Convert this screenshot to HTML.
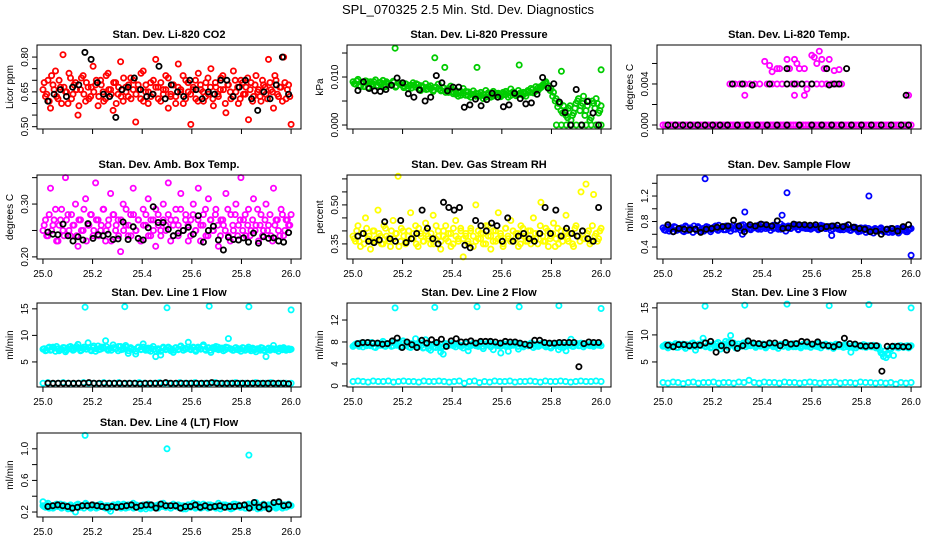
<!DOCTYPE html>
<html><head><meta charset="utf-8"><title>SPL_070325 2.5 Min. Std. Dev. Diagnostics</title>
<style>
html,body{margin:0;padding:0;background:#fff;}
svg{display:block;font-family:"Liberation Sans",Arial,sans-serif;}
</style></head>
<body>
<svg id="chart" width="936" height="540" viewBox="0 0 936 540" xmlns="http://www.w3.org/2000/svg">
<rect x="0" y="0" width="936" height="540" fill="#fff"/>
<text x="468" y="14" text-anchor="middle" font-size="13">SPL_070325  2.5 Min. Std. Dev. Diagnostics</text>
</svg>
<script>
// ---------- DATA ----------
const xTicks = [25.0, 25.2, 25.4, 25.6, 25.8, 26.0];
const xTickLabels = ["25.0", "25.2", "25.4", "25.6", "25.8", "26.0"];

const co2Main = [0.66,0.63,0.70,0.58,0.68,0.74,0.62,0.67,0.81,0.65,0.60,0.71,0.64,0.69,0.55,0.66,0.72,0.61,0.67,0.63,0.76,0.68,0.59,0.70,0.65,0.62,0.73,0.66,0.57,0.69,0.64,0.78,0.61,0.67,0.63,0.71,0.66,0.52,0.68,0.62,0.74,0.65,0.60,0.69,0.64,0.79,0.67,0.61,0.66,0.72,0.58,0.64,0.68,0.63,0.77,0.66,0.60,0.70,0.65,0.51,0.67,0.62,0.73,0.66,0.61,0.69,0.64,0.75,0.59,0.67,0.63,0.71,0.66,0.56,0.68,0.62,0.74,0.65,0.60,0.70,0.64,0.67,0.53,0.69,0.63,0.72,0.66,0.61,0.68,0.64,0.79,0.66,0.58,0.70,0.63,0.67,0.80,0.62,0.68,0.51];
const co2Main2 = [0.69,0.64,0.61,0.72,0.66,0.63,0.70,0.60,0.67,0.65,0.73,0.62,0.68,0.66,0.59,0.71,0.64,0.69,0.62,0.67,0.65,0.70,0.63,0.68,0.61,0.72,0.66,0.64,0.69,0.60,0.67,0.63,0.71,0.65,0.68,0.62,0.70,0.64,0.66,0.73,0.61,0.68,0.65,0.63,0.70,0.67,0.62,0.69,0.64,0.66,0.71,0.63,0.68,0.60,0.67,0.65,0.72,0.62,0.69,0.64,0.66,0.70,0.61,0.68,0.65,0.63,0.71,0.67,0.62,0.69,0.64,0.66,0.72,0.60,0.68,0.65,0.63,0.70,0.67,0.62,0.69,0.64,0.71,0.66,0.61,0.68,0.65,0.63,0.70,0.67,0.62,0.69,0.65,0.72,0.64,0.67,0.61,0.69,0.66,0.63];
const co2Black = [0.61,0.64,0.66,0.63,0.67,0.68,0.82,0.79,0.69,0.64,0.63,0.54,0.66,0.67,0.71,0.66,0.63,0.64,0.76,0.62,0.68,0.65,0.63,0.70,0.66,0.62,0.65,0.64,0.70,0.70,0.63,0.67,0.70,0.62,0.57,0.65,0.62,0.68,0.80,0.64];
const co2YTicks = [0.50,0.55,0.60,0.65,0.70,0.75,0.80];
const co2YLabels = ["0.50","","","0.65","","","0.80"];

const presMain = [0.0090,0.0085,0.0095,0.0080,0.0088,0.0092,0.0078,0.0090,0.0086,0.0094,0.0082,0.0089,0.0093,0.0080,0.0087,0.0084,0.0091,0.0079,0.0088,0.0085,0.0081,0.0086,0.0076,0.0083,0.0088,0.0079,0.0084,0.0072,0.0080,0.0086,0.0075,0.0082,0.0070,0.0079,0.0085,0.0073,0.0078,0.0068,0.0076,0.0081,0.0065,0.0072,0.0060,0.0070,0.0076,0.0062,0.0069,0.0058,0.0071,0.0066,0.0060,0.0068,0.0055,0.0072,0.0063,0.0058,0.0070,0.0062,0.0066,0.0059,0.0064,0.0070,0.0058,0.0075,0.0066,0.0061,0.0072,0.0064,0.0068,0.0060,0.0070,0.0076,0.0067,0.0080,0.0073,0.0078,0.0085,0.0090,0.0082,0.0076,0.0068,0.0055,0.0045,0.0030,0.0040,0.0020,0.0035,0.0010,0.0025,0.0045,0.0055,0.0040,0.0060,0.0030,0.0050,0.0015,0.0045,0.0055,0.0025,0.0040];
const presMain2 = [0.0086,0.0092,0.0083,0.0089,0.0080,0.0091,0.0087,0.0084,0.0090,0.0082,0.0088,0.0085,0.0079,0.0090,0.0086,0.0083,0.0089,0.0081,0.0087,0.0084,0.0078,0.0085,0.0081,0.0077,0.0083,0.0086,0.0076,0.0082,0.0079,0.0074,0.0080,0.0077,0.0073,0.0079,0.0075,0.0071,0.0077,0.0072,0.0068,0.0074,0.0069,0.0064,0.0067,0.0062,0.0066,0.0070,0.0061,0.0065,0.0063,0.0060,0.0065,0.0061,0.0064,0.0058,0.0067,0.0062,0.0060,0.0066,0.0063,0.0061,0.0068,0.0063,0.0066,0.0061,0.0069,0.0065,0.0063,0.0067,0.0062,0.0066,0.0072,0.0068,0.0074,0.0070,0.0077,0.0080,0.0083,0.0087,0.0078,0.0072,0.0060,0.0050,0.0038,0.0045,0.0025,0.0030,0.0015,0.0040,0.0020,0.0035,0.0050,0.0030,0.0045,0.0020,0.0040,0.0010,0.0050,0.0035,0.0045,0.0030];
const presExtraX = [25.17,25.33,25.37,25.50,25.67,25.84,26.00,25.82,25.84,25.86,25.88,25.90,25.92,25.94,25.96,25.98,26.00];
const presExtraY = [0.0160,0.0140,0.0120,0.0120,0.0125,0.0112,0.0115,0.0000,0.0000,0.0000,0.0000,0.0000,0.0000,0.0000,0.0000,0.0000,0.0000];
const presBlack = [0.0072,0.0090,0.0076,0.0071,0.0070,0.0074,0.0083,0.0098,0.0088,0.0065,0.0058,0.0073,0.0050,0.0058,0.0103,0.0088,0.0071,0.0079,0.0079,0.0037,0.0042,0.0054,0.0040,0.0053,0.0066,0.0058,0.0038,0.0042,0.0066,0.0055,0.0044,0.0046,0.0064,0.0099,0.0077,0.0086,0.0048,0.0026,0.0000,0.0074,0.0000,0.0049,0.0025,0.0000];
const presYTicks = [0.000,0.005,0.010,0.015];
const presYLabels = ["0.000","","0.010",""];

const tempMain = [0,0,0,0,0,0,0,0,0,0,0,0,0,0,0,0,0,0,0,0,0,0,0,0,0,0,0,0,0,0,0,0,0,0,0,0,0,0,0,0,0,0,0,0,0,0,0,0,0,0,0,0,0,0,0,0,0,0,0,0,0,0,0,0,0,0,0,0,0,0,0,0,0,0,0,0,0,0,0,0,0,0,0,0,0,0,0,0,0,0,0,0,0,0,0,0,0,0,0,0];
const tempExtraX = [25.27,25.29,25.31,25.33,25.35,25.37,25.39,25.42,25.44,25.46,25.48,25.50,25.52,25.54,25.56,25.58,25.60,25.62,25.64,25.66,25.68,25.70,25.72,25.44,25.43,25.46,25.47,25.50,25.53,25.54,25.55,25.57,25.58,25.60,25.61,25.62,25.63,25.64,25.65,25.67,25.69,25.71,25.33,25.53,25.57,25.99,25.41,25.51];
const tempExtraY = [0.0040,0.0040,0.0040,0.0040,0.0040,0.0040,0.0040,0.0040,0.0040,0.0040,0.0040,0.0040,0.0040,0.0040,0.0040,0.0040,0.0040,0.0040,0.0040,0.0040,0.0040,0.0040,0.0040,0.0052,0.0058,0.0055,0.0055,0.0064,0.0064,0.0060,0.0055,0.0055,0.0035,0.0068,0.0066,0.0060,0.0072,0.0064,0.0055,0.0064,0.0053,0.0054,0.0029,0.0029,0.0029,0.0029,0.0062,0.0055];
const tempBlackX = [25.02,25.05,25.08,25.11,25.14,25.17,25.20,25.23,25.26,25.30,25.34,25.38,25.42,25.46,25.50,25.55,25.60,25.64,25.68,25.72,25.76,25.80,25.84,25.88,25.92,25.96,25.99,25.28,25.32,25.36,25.43,25.50,25.53,25.56,25.60,25.67,25.69,25.71,25.50,25.66,25.74,25.98];
const tempBlackY = [0,0,0,0,0,0,0,0,0,0,0,0,0,0,0,0,0,0,0,0,0,0,0,0,0,0,0,0.0040,0.0040,0.0039,0.0040,0.0040,0.0040,0.0040,0.0040,0.0039,0.0040,0.0040,0.0055,0.0055,0.0055,0.0029];
const tempYTicks = [0.000,0.002,0.004,0.006];
const tempYLabels = ["0.000","","0.004",""];

const boxMain = [0.25,0.27,0.24,0.33,0.26,0.29,0.23,0.27,0.25,0.35,0.28,0.24,0.26,0.30,0.22,0.27,0.25,0.31,0.26,0.28,0.24,0.34,0.27,0.25,0.29,0.23,0.26,0.32,0.28,0.25,0.27,0.21,0.30,0.26,0.24,0.28,0.33,0.25,0.27,0.23,0.29,0.26,0.31,0.24,0.27,0.22,0.28,0.25,0.30,0.26,0.34,0.27,0.24,0.29,0.26,0.32,0.25,0.28,0.23,0.27,0.30,0.25,0.33,0.26,0.28,0.24,0.31,0.27,0.25,0.29,0.22,0.27,0.26,0.32,0.24,0.28,0.25,0.30,0.26,0.35,0.27,0.24,0.29,0.25,0.31,0.26,0.23,0.28,0.25,0.30,0.26,0.24,0.33,0.27,0.25,0.29,0.24,0.27,0.26,0.28];
const boxMain2 = [0.26,0.24,0.28,0.25,0.27,0.23,0.26,0.29,0.24,0.27,0.25,0.28,0.26,0.24,0.27,0.25,0.29,0.23,0.26,0.28,0.25,0.27,0.24,0.26,0.29,0.25,0.27,0.23,0.28,0.26,0.24,0.27,0.25,0.29,0.26,0.24,0.28,0.25,0.27,0.23,0.26,0.28,0.24,0.27,0.25,0.29,0.26,0.24,0.27,0.25,0.28,0.23,0.26,0.27,0.24,0.29,0.25,0.27,0.26,0.24,0.28,0.25,0.27,0.23,0.26,0.29,0.24,0.27,0.25,0.28,0.26,0.24,0.27,0.25,0.29,0.23,0.26,0.28,0.24,0.27,0.25,0.28,0.26,0.24,0.27,0.25,0.29,0.26,0.24,0.27,0.25,0.28,0.23,0.26,0.27,0.24,0.28,0.25,0.27,0.26];
const boxBlack = [0.247,0.243,0.242,0.262,0.240,0.230,0.238,0.232,0.263,0.235,0.242,0.240,0.243,0.233,0.234,0.266,0.233,0.257,0.235,0.232,0.255,0.295,0.265,0.265,0.252,0.240,0.245,0.250,0.256,0.243,0.278,0.228,0.250,0.258,0.232,0.213,0.237,0.233,0.232,0.236,0.228,0.245,0.226,0.238,0.235,0.236,0.230,0.228,0.246];
const boxYTicks = [0.20,0.25,0.30,0.35];
const boxYLabels = ["0.20","","0.30",""];

const rhMain = [0.38,0.36,0.42,0.34,0.39,0.45,0.37,0.33,0.40,0.36,0.48,0.38,0.35,0.41,0.37,0.34,0.44,0.39,0.61,0.36,0.40,0.35,0.38,0.47,0.37,0.42,0.34,0.39,0.36,0.43,0.38,0.35,0.46,0.37,0.40,0.33,0.38,0.42,0.36,0.39,0.35,0.44,0.37,0.41,0.30,0.38,0.36,0.40,0.34,0.50,0.37,0.39,0.35,0.42,0.38,0.33,0.40,0.36,0.47,0.38,0.35,0.41,0.37,0.44,0.36,0.39,0.34,0.42,0.38,0.36,0.40,0.35,0.45,0.37,0.39,0.51,0.36,0.41,0.34,0.38,0.43,0.37,0.35,0.40,0.38,0.46,0.36,0.39,0.34,0.42,0.38,0.55,0.37,0.58,0.40,0.36,0.54,0.39,0.37,0.41];
const rhMain2 = [0.37,0.40,0.36,0.39,0.35,0.41,0.38,0.36,0.40,0.37,0.39,0.35,0.42,0.38,0.36,0.40,0.37,0.39,0.34,0.41,0.38,0.36,0.40,0.37,0.39,0.35,0.41,0.38,0.36,0.40,0.37,0.39,0.35,0.42,0.38,0.36,0.40,0.37,0.39,0.34,0.41,0.38,0.36,0.40,0.37,0.39,0.35,0.41,0.38,0.36,0.40,0.37,0.39,0.35,0.42,0.38,0.36,0.40,0.37,0.39,0.34,0.41,0.38,0.36,0.40,0.37,0.39,0.35,0.41,0.38,0.36,0.40,0.37,0.39,0.35,0.42,0.38,0.36,0.40,0.37,0.39,0.34,0.41,0.38,0.36,0.40,0.37,0.39,0.35,0.41,0.38,0.36,0.40,0.37,0.39,0.35,0.42,0.38,0.36,0.40];
const rhBlack = [0.38,0.39,0.36,0.355,0.365,0.435,0.37,0.36,0.44,0.355,0.37,0.39,0.48,0.41,0.37,0.35,0.51,0.49,0.48,0.49,0.345,0.335,0.44,0.42,0.40,0.43,0.42,0.36,0.45,0.36,0.38,0.39,0.37,0.36,0.39,0.49,0.39,0.48,0.38,0.41,0.39,0.38,0.40,0.37,0.36,0.49];
const rhYTicks = [0.35,0.40,0.45,0.50,0.55,0.60];
const rhYLabels = ["0.35","","","0.50","",""];

const sfMain = [0.70,0.66,0.72,0.68,0.64,0.71,0.67,0.69,0.65,0.73,0.66,0.70,0.63,0.68,0.72,0.65,0.69,0.67,0.71,0.64,0.70,0.73,0.66,0.69,0.72,0.67,0.70,0.65,0.74,0.68,0.71,0.66,0.75,0.69,0.72,0.67,0.70,0.73,0.68,0.71,0.75,0.69,0.72,0.66,0.74,0.70,0.68,0.76,0.71,0.65,0.73,0.69,0.72,0.75,0.67,0.71,0.74,0.69,0.72,0.68,0.73,0.70,0.67,0.74,0.71,0.69,0.72,0.66,0.73,0.70,0.68,0.71,0.67,0.73,0.69,0.66,0.71,0.68,0.64,0.70,0.67,0.63,0.69,0.66,0.62,0.68,0.65,0.70,0.64,0.67,0.63,0.69,0.65,0.68,0.62,0.66,0.70,0.64,0.67,0.69];
const sfMain2 = [0.67,0.71,0.65,0.69,0.72,0.66,0.68,0.70,0.64,0.71,0.67,0.69,0.73,0.66,0.70,0.68,0.65,0.72,0.69,0.67,0.71,0.68,0.74,0.70,0.67,0.73,0.69,0.71,0.68,0.72,0.70,0.74,0.68,0.71,0.73,0.69,0.72,0.70,0.74,0.68,0.71,0.73,0.70,0.72,0.69,0.74,0.71,0.68,0.73,0.70,0.72,0.69,0.74,0.71,0.68,0.73,0.70,0.72,0.69,0.71,0.70,0.72,0.68,0.71,0.73,0.69,0.70,0.72,0.68,0.71,0.69,0.67,0.70,0.72,0.68,0.66,0.69,0.71,0.67,0.65,0.68,0.70,0.66,0.64,0.67,0.69,0.65,0.68,0.66,0.64,0.68,0.66,0.63,0.67,0.69,0.65,0.68,0.66,0.64,0.68];
const sfExtraX = [25.17,25.33,25.50,25.48,25.83,26.00,25.32,25.68];
const sfExtraY = [1.47,0.95,1.25,0.90,1.20,0.27,0.60,0.58];
const sfBlack = [0.75,0.64,0.69,0.68,0.67,0.68,0.63,0.68,0.69,0.71,0.72,0.73,0.82,0.73,0.64,0.75,0.73,0.76,0.75,0.73,0.81,0.69,0.70,0.76,0.75,0.75,0.74,0.75,0.69,0.72,0.73,0.74,0.72,0.75,0.71,0.69,0.68,0.64,0.65,0.60,0.68,0.69,0.65,0.72,0.75];
const sfYTicks = [0.4,0.6,0.8,1.0,1.2,1.4];
const sfYLabels = ["0.4","","0.8","","1.2",""];

const l1Main = [7.4,7.1,7.6,7.2,7.8,7.0,7.5,7.3,7.7,6.9,7.4,7.9,7.2,7.6,8.3,7.1,7.5,7.8,8.6,7.3,7.7,7.0,8.0,7.4,7.8,9.0,7.2,7.6,8.2,7.5,7.1,7.9,7.4,8.1,6.6,7.7,7.3,6.5,7.8,7.4,8.4,7.2,7.6,7.0,7.9,6.0,7.5,6.3,7.8,7.3,7.7,7.1,6.8,7.6,7.4,8.0,7.2,7.5,8.7,7.3,7.8,7.0,7.6,7.4,8.2,7.2,7.7,6.8,7.5,7.9,7.3,7.6,7.1,7.8,9.4,7.4,7.2,7.7,7.5,7.0,7.6,7.3,7.8,7.1,7.5,6.9,7.4,7.7,7.2,6.0,7.6,7.3,8.1,7.5,7.0,7.4,7.7,7.2,7.5,7.4];
const l1Main2 = [7.5,7.2,7.8,7.3,7.6,7.9,7.1,7.4,7.7,7.2,7.8,7.5,7.3,7.9,7.6,7.2,7.8,7.4,7.7,7.1,8.0,7.5,7.3,7.8,7.6,7.9,7.4,7.2,7.7,7.5,7.9,7.3,7.6,7.8,7.1,7.5,7.4,7.0,7.7,7.3,7.8,7.5,7.2,7.6,7.4,7.1,7.3,7.0,7.6,7.4,7.8,7.5,7.2,7.7,7.3,7.9,7.6,7.4,7.8,7.5,7.7,7.3,7.8,7.5,7.9,7.4,7.6,7.2,7.7,7.5,7.8,7.4,7.6,7.3,7.7,7.5,7.2,7.6,7.3,7.4,7.7,7.2,7.5,7.4,7.6,7.3,7.5,7.2,7.6,7.1,7.4,7.2,7.5,7.3,7.4,7.6,7.3,7.5,7.4,7.3];
const l1Low = [1.0,1.1,0.9,1.0,1.1,1.0,0.9,1.0,1.1,1.0,1.0,0.9,1.1,1.0,1.0,1.1,0.9,1.0,1.0,1.1,1.0,0.9,1.0,1.1,1.0,1.0,0.9,1.1,1.0,1.0,1.1,0.9,1.0,1.0,1.1,1.0,0.9,1.0,1.1,1.0,1.0,0.9,1.1,1.0,1.0,1.1,0.9,1.0,1.0,1.0];
const l1ExtraX = [25.17,25.33,25.50,25.67,25.83,26.00];
const l1ExtraY = [15.3,15.4,15.2,15.5,15.4,14.8];
const l1Black = [1.0,1.0,1.0,1.0,1.0,1.0,1.0,1.0,1.1,1.0,1.0,1.0,1.0,1.0,1.0,1.0,1.0,1.0,0.9,1.0,1.0,1.0,1.0,1.1,1.0,1.0,1.0,1.0,1.0,1.0,1.0,1.0,1.1,1.0,1.0,1.0,1.0,1.0,1.0,1.0,1.0,1.0,1.0,1.0,1.0,1.0,1.0,0.9];
const l1YTicks = [5,10,15];
const l1YLabels = ["5","10","15"];

const l2Main = [7.2,7.6,7.4,7.8,7.1,7.5,7.9,7.3,7.7,7.0,7.6,7.4,8.1,7.2,7.5,7.8,7.3,7.6,7.9,7.1,8.2,7.4,7.7,7.0,7.5,8.6,7.3,7.8,6.9,8.4,7.2,6.5,7.6,7.0,7.4,6.2,5.8,7.7,7.3,7.5,7.8,7.1,7.6,7.4,6.9,7.7,6.4,7.3,7.8,7.5,7.2,7.6,6.8,7.4,7.9,7.1,6.6,7.5,7.3,6.0,7.7,7.2,6.3,7.6,7.4,7.8,6.7,7.5,7.1,7.6,7.3,7.8,7.0,7.5,7.2,7.7,7.4,7.1,7.6,6.9,7.5,7.3,6.6,7.7,7.0,6.4,7.4,8.5,7.2,7.6,7.3,7.8,7.1,7.5,7.4,7.7,7.2,7.6,7.4,7.3];
const l2Main2 = [7.4,7.7,7.2,7.6,7.8,7.3,7.5,7.9,7.1,7.6,7.4,7.8,7.3,7.7,7.5,7.2,7.9,7.4,7.6,7.3,7.8,7.5,7.1,7.7,7.4,7.6,7.2,7.3,7.0,7.5,6.8,7.4,7.1,7.6,7.3,6.9,7.2,7.5,7.4,7.7,7.3,7.6,7.5,7.2,7.4,7.7,7.1,7.5,7.6,7.3,7.4,7.8,7.2,7.6,7.5,7.3,7.7,7.4,7.6,7.2,7.5,7.4,7.7,7.3,7.6,7.5,7.2,7.7,7.4,7.6,7.3,7.5,7.7,7.2,7.6,7.4,7.8,7.3,7.5,7.2,7.6,7.4,7.7,7.1,7.5,7.3,7.6,7.4,7.2,7.5,7.7,7.3,7.6,7.4,7.5,7.3,7.6,7.4,7.5,7.6];
const l2Low = [0.8,0.9,0.8,0.7,0.9,0.8,0.8,0.9,0.7,0.8,0.9,0.8,0.8,0.7,0.9,0.8,0.8,0.9,0.8,0.7,0.8,0.9,0.5,0.8,0.9,0.6,0.8,0.7,0.9,0.8,0.8,0.9,0.7,0.8,0.8,0.9,0.8,0.7,0.9,0.8,0.8,0.9,0.8,0.7,0.8,0.9,0.8,0.8,0.9,0.8];
const l2ExtraX = [25.17,25.33,25.50,25.67,25.83,26.00];
const l2ExtraY = [14.2,14.3,14.4,14.4,14.6,14.1];
const l2Black = [7.7,7.9,7.9,7.8,7.8,7.6,7.7,8.2,8.7,7.0,8.0,7.5,7.0,8.3,7.8,8.4,7.9,8.5,7.2,8.2,8.6,8.0,8.0,8.2,7.8,8.1,8.1,8.1,8.0,7.8,8.1,8.0,8.0,7.8,7.6,7.4,8.3,8.3,7.9,7.8,7.8,7.9,7.9,7.9,7.9,3.5,7.7,8.0,7.9,7.9];
const l2YTicks = [0,4,8,12];
const l2YLabels = ["0","4","8","12"];

const l3Main = [7.9,8.2,7.6,8.1,7.8,8.4,7.7,8.0,8.3,7.5,8.1,7.9,8.5,7.2,8.0,8.3,9.4,7.8,8.1,7.6,8.2,7.9,8.6,7.4,8.0,8.8,7.7,9.9,8.1,7.6,8.3,7.9,8.5,7.8,8.2,8.0,8.4,7.7,8.1,7.9,8.3,7.6,8.0,8.4,7.8,8.1,7.5,8.2,7.9,8.3,7.7,8.0,8.4,7.8,8.1,7.6,8.2,7.9,8.3,7.7,8.1,7.9,8.4,7.6,8.0,8.2,7.8,8.1,7.5,8.3,7.9,8.0,7.7,8.2,7.8,6.8,8.1,7.6,8.0,7.9,8.2,7.7,8.0,7.8,8.1,7.6,7.9,6.7,6.0,5.8,6.3,7.4,6.2,7.8,7.6,8.0,7.7,7.9,7.6,8.0];
const l3Main2 = [8.0,7.8,8.2,7.9,8.1,7.7,8.3,8.0,7.8,8.2,7.9,8.4,8.1,7.8,8.3,8.0,8.6,7.9,8.2,7.8,8.1,8.4,8.0,7.9,8.3,8.1,8.7,8.2,8.5,8.0,8.3,7.9,8.2,8.6,8.0,8.3,8.1,7.9,8.2,8.0,8.3,7.9,8.1,8.2,8.0,7.8,8.1,8.3,7.9,8.2,8.0,8.1,7.8,8.2,8.0,7.9,8.3,8.1,7.9,8.2,8.0,8.1,7.8,8.2,8.0,8.3,7.9,8.1,7.8,8.0,8.2,7.9,8.1,7.8,8.0,7.9,7.7,8.1,7.9,8.0,7.8,8.1,7.9,8.0,7.8,7.9,7.6,7.2,6.5,7.0,6.6,7.5,7.8,7.9,7.7,8.0,7.8,7.9,8.0,7.8];
const l3Low = [1.2,1.1,1.3,1.2,1.0,1.2,1.3,1.1,1.2,1.2,1.3,1.1,1.2,1.2,1.1,1.3,1.2,1.6,1.2,1.1,1.3,1.2,1.2,1.1,1.3,1.2,1.2,1.1,1.2,1.3,1.2,1.1,1.2,1.2,1.3,1.1,1.2,1.2,1.1,1.3,1.2,1.2,1.1,1.2,1.1,1.2,0.9,1.2,1.1,1.2];
const l3ExtraX = [25.17,25.33,25.50,25.67,25.83,26.00];
const l3ExtraY = [15.3,15.5,15.7,15.4,15.6,15.0];
const l3Black = [8.1,7.8,8.2,8.2,8.0,8.1,8.1,8.5,8.8,6.8,8.0,7.2,8.5,7.5,8.0,8.9,8.5,8.4,8.2,8.5,8.5,8.0,8.6,8.3,8.4,8.8,8.7,8.3,8.7,8.1,8.0,7.8,8.2,9.4,8.4,8.3,8.0,7.9,8.0,8.0,3.3,7.9,7.9,7.9,7.8,7.8];
const l3YTicks = [5,10,15];
const l3YLabels = ["5","10","15"];

const l4Main = [0.28,0.26,0.31,0.27,0.25,0.29,0.27,0.30,0.26,0.28,0.24,0.29,0.27,0.20,0.30,0.26,0.28,0.31,0.27,0.25,0.29,0.28,0.26,0.30,0.27,0.25,0.28,0.21,0.29,0.27,0.30,0.26,0.28,0.25,0.29,0.27,0.31,0.26,0.28,0.24,0.29,0.27,0.30,0.25,0.28,0.26,0.29,0.27,0.31,0.26,0.28,0.25,0.30,0.27,0.29,0.26,0.28,0.24,0.29,0.27,0.31,0.26,0.28,0.25,0.30,0.27,0.29,0.26,0.28,0.25,0.31,0.27,0.29,0.26,0.28,0.24,0.30,0.27,0.29,0.26,0.28,0.25,0.30,0.27,0.29,0.32,0.28,0.25,0.30,0.27,0.29,0.26,0.28,0.25,0.31,0.27,0.29,0.26,0.30,0.28];
const l4Main2 = [0.27,0.29,0.25,0.28,0.26,0.30,0.27,0.25,0.29,0.26,0.28,0.24,0.27,0.29,0.26,0.28,0.25,0.30,0.27,0.26,0.28,0.25,0.29,0.27,0.26,0.28,0.24,0.27,0.29,0.26,0.28,0.25,0.30,0.27,0.26,0.28,0.25,0.29,0.27,0.26,0.28,0.24,0.27,0.29,0.26,0.28,0.25,0.30,0.27,0.26,0.28,0.25,0.29,0.27,0.26,0.28,0.24,0.27,0.29,0.26,0.28,0.25,0.30,0.27,0.26,0.28,0.25,0.29,0.27,0.26,0.28,0.24,0.27,0.29,0.26,0.28,0.25,0.30,0.27,0.26,0.28,0.25,0.29,0.27,0.26,0.28,0.24,0.27,0.29,0.26,0.28,0.25,0.30,0.27,0.26,0.28,0.25,0.29,0.27,0.28];
const l4ExtraX = [25.17,25.50,25.83,25.00];
const l4ExtraY = [1.17,1.00,0.92,0.33];
const l4Black = [0.27,0.28,0.29,0.28,0.27,0.25,0.26,0.28,0.28,0.29,0.28,0.27,0.26,0.27,0.26,0.27,0.28,0.29,0.26,0.28,0.29,0.29,0.25,0.30,0.28,0.28,0.28,0.25,0.27,0.27,0.29,0.26,0.28,0.26,0.27,0.28,0.26,0.27,0.27,0.28,0.29,0.25,0.32,0.26,0.29,0.24,0.32,0.33,0.28,0.29];
const l4YTicks = [0.2,0.4,0.6,0.8,1.0];
const l4YLabels = ["0.2","","0.6","","1.0"];

// ---------- LAYOUT ----------
const NS = "http://www.w3.org/2000/svg";
const svg = document.getElementById("chart");
const BW = 264, BH = 84;
const XMIN = 24.976, XMAX = 26.04;

function mk(tag, attrs, parent) {
  const e = document.createElementNS(NS, tag);
  for (const k in attrs) e.setAttribute(k, attrs[k]);
  (parent || svg).appendChild(e);
  return e;
}
function evenX(n, a, b) { const r = []; for (let i = 0; i < n; i++) r.push(a + (b - a) * i / (n - 1)); return r; }

const panels = [
  {key:"co2", title:"Stan. Dev. Li-820 CO2", ylab:"Licor ppm", left:37, top:45, ymin:0.490, ymax:0.852, color:"#ff0000", main:co2Main, main2:co2Main2, extraX:[], extraY:[], low:null, blackX:null, black:co2Black, yt:co2YTicks, yl:co2YLabels, xlabels:false},
  {key:"pressure", title:"Stan. Dev. Li-820 Pressure", ylab:"kPa", left:347, top:45, ymin:-0.00083, ymax:0.01667, color:"#00cc00", main:presMain, main2:presMain2, extraX:presExtraX, extraY:presExtraY, low:null, blackX:null, black:presBlack, yt:presYTicks, yl:presYLabels, xlabels:false},
  {key:"li820-temp", title:"Stan. Dev. Li-820 Temp.", ylab:"degrees C", left:657, top:45, ymin:-0.00039, ymax:0.0078, color:"#ff00ff", main:tempMain, main2:null, extraX:tempExtraX, extraY:tempExtraY, low:null, blackX:tempBlackX, black:tempBlackY, yt:tempYTicks, yl:tempYLabels, xlabels:false},
  {key:"box-temp", title:"Stan. Dev. Amb. Box Temp.", ylab:"degrees C", left:37, top:175, ymin:0.196, ymax:0.355, color:"#ff00ff", main:boxMain, main2:boxMain2, extraX:[], extraY:[], low:null, blackX:null, black:boxBlack, yt:boxYTicks, yl:boxYLabels, xlabels:true},
  {key:"gas-rh", title:"Stan. Dev. Gas Stream RH", ylab:"percent", left:347, top:175, ymin:0.292, ymax:0.615, color:"#ffff00", main:rhMain, main2:rhMain2, extraX:[], extraY:[], low:null, blackX:null, black:rhBlack, yt:rhYTicks, yl:rhYLabels, xlabels:true},
  {key:"sample-flow", title:"Stan. Dev. Sample Flow", ylab:"ml/min", left:657, top:175, ymin:0.212, ymax:1.53, color:"#0000ff", main:sfMain, main2:sfMain2, extraX:sfExtraX, extraY:sfExtraY, low:null, blackX:null, black:sfBlack, yt:sfYTicks, yl:sfYLabels, xlabels:true},
  {key:"line1", title:"Stan. Dev. Line 1 Flow", ylab:"ml/min", left:37, top:303, ymin:0.28, ymax:16.1, color:"#00ffff", main:l1Main, main2:l1Main2, extraX:l1ExtraX, extraY:l1ExtraY, low:l1Low, blackX:null, black:l1Black, yt:l1YTicks, yl:l1YLabels, xlabels:true},
  {key:"line2", title:"Stan. Dev. Line 2 Flow", ylab:"ml/min", left:347, top:303, ymin:-0.2, ymax:15.1, color:"#00ffff", main:l2Main, main2:l2Main2, extraX:l2ExtraX, extraY:l2ExtraY, low:l2Low, blackX:null, black:l2Black, yt:l2YTicks, yl:l2YLabels, xlabels:true},
  {key:"line3", title:"Stan. Dev. Line 3 Flow", ylab:"ml/min", left:657, top:303, ymin:0.37, ymax:15.9, color:"#00ffff", main:l3Main, main2:l3Main2, extraX:l3ExtraX, extraY:l3ExtraY, low:l3Low, blackX:null, black:l3Black, yt:l3YTicks, yl:l3YLabels, xlabels:true},
  {key:"line4", title:"Stan. Dev. Line 4 (LT) Flow", ylab:"ml/min", left:37, top:433, ymin:0.137, ymax:1.2, color:"#00ffff", main:l4Main, main2:l4Main2, extraX:l4ExtraX, extraY:l4ExtraY, low:null, blackX:null, black:l4Black, yt:l4YTicks, yl:l4YLabels, xlabels:true}
];

panels.forEach(p => {
  const g = mk("g", {});
  
  
  const L = p.left, T = p.top, B = T + BH;
  const sx = v => L + (v - XMIN) / (XMAX - XMIN) * BW;
  const sy = v => B - (v - p.ymin) / (p.ymax - p.ymin) * BH;

  const title = mk("text", {x: L + BW / 2, y: T - 7, "text-anchor": "middle", "font-size": 11, "font-weight": "bold"}, g);
  title.textContent = p.title;
  
  

  const pts = mk("g", {fill: "none", "stroke-width": 1.8}, g);
  
  
  function dot(x, y, col, nm) {
    const c = mk("circle", {cx: sx(x).toFixed(1), cy: sy(y).toFixed(1), r: 2.6, stroke: col}, pts);
    
    
  }
  const mx = evenX(p.main.length, 25.0, 26.0);
  p.main.forEach((v, i) => dot(mx[i], v, p.color, p.key + '-point'));
  if (p.main2) {
    const mx2 = evenX(p.main2.length, 25.005, 25.995);
    p.main2.forEach((v, i) => dot(mx2[i], v, p.color, p.key + '-point'));
  }
  if (p.low) {
    const lx = evenX(p.low.length, 25.0, 26.0);
    p.low.forEach((v, i) => dot(lx[i], v, p.color, p.key + '-low-point'));
  }
  p.extraX.forEach((x, i) => dot(x, p.extraY[i], p.color, p.key + '-point'));
  const bx = p.blackX || evenX(p.black.length, 25.02, 25.99);
  p.black.forEach((v, i) => dot(bx[i], v, "#000", p.key + '-black-point'));

  const box = mk("rect", {x: L, y: T, width: BW, height: BH, fill: "none", stroke: "#000", "stroke-width": 1}, g);
  
  

  const xa = mk("g", {stroke: "#000", "stroke-width": 1}, g);
  
  
  mk("line", {x1: sx(xTicks[0]), x2: sx(xTicks[xTicks.length - 1]), y1: B, y2: B}, xa);
  xTicks.forEach((t, i) => {
    mk("line", {x1: sx(t), x2: sx(t), y1: B, y2: B + 5}, xa);
    if (p.xlabels) {
      const tx = mk("text", {x: sx(t), y: B + 18, "text-anchor": "middle", "font-size": 10, stroke: "none"}, xa);
      tx.textContent = xTickLabels[i];
      
      
    }
  });

  const ya = mk("g", {stroke: "#000", "stroke-width": 1}, g);
  
  
  mk("line", {x1: L, x2: L, y1: sy(p.yt[0]), y2: sy(p.yt[p.yt.length - 1])}, ya);
  p.yt.forEach((t, i) => {
    const y = sy(t);
    mk("line", {x1: L - 5, x2: L, y1: y, y2: y}, ya);
    if (p.yl[i]) {
      const tx = mk("text", {x: L - 9, y: y, "text-anchor": "middle", "font-size": 10, stroke: "none", transform: "rotate(-90 " + (L - 9) + " " + y + ")"}, ya);
      tx.textContent = p.yl[i];
      
      
    }
  });
  const yt = mk("text", {x: L - 24, y: T + BH / 2, "text-anchor": "middle", "font-size": 10, transform: "rotate(-90 " + (L - 24) + " " + (T + BH / 2) + ")"}, g);
  yt.textContent = p.ylab;
  
  
});
</script>
</body></html>
